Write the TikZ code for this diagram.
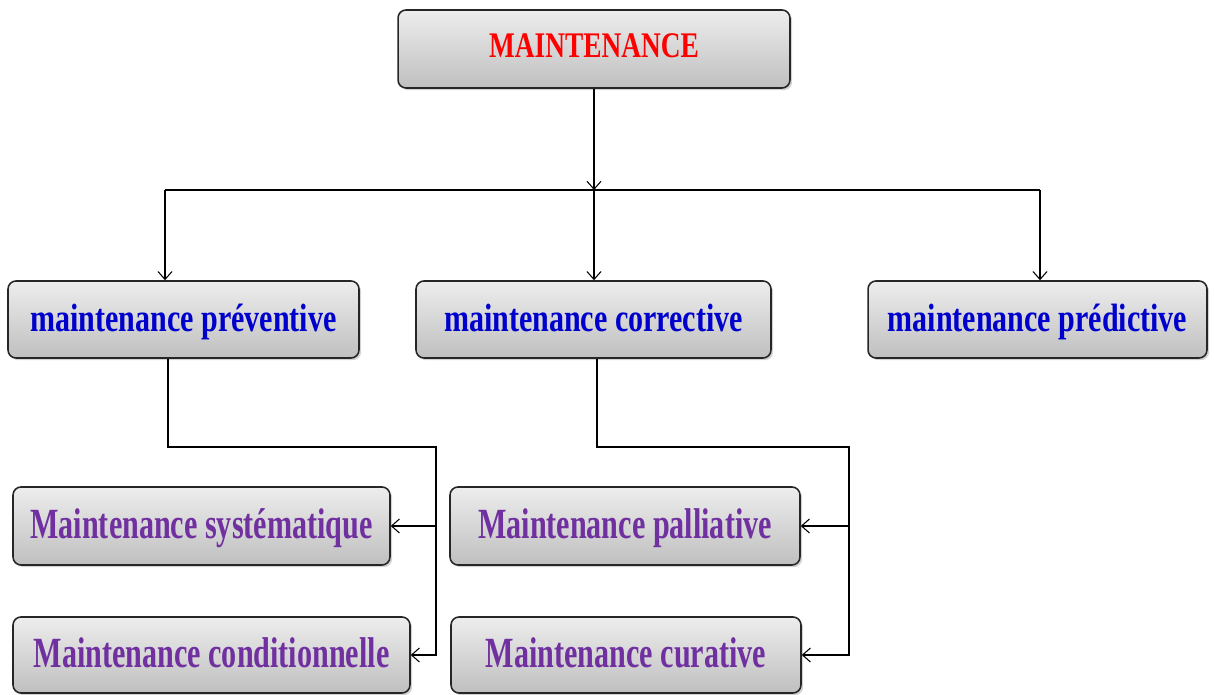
\documentclass[tikz,border=0pt]{standalone}
\usepackage{fontspec}
\newfontfamily\tfont[FakeStretch=0.76]{Liberation Serif}
\newfontfamily\pfont[FakeStretch=0.70]{Liberation Serif}
\usetikzlibrary{arrows.meta,shadows}
\definecolor{cred}{HTML}{FF0000}
\definecolor{cblue}{HTML}{0000CC}
\definecolor{cpurple}{HTML}{7030A0}
\tikzset{
  box/.style={draw=black!85, line width=0.9pt, rounded corners=4.5pt,
    top color=black!7, bottom color=black!25, inner sep=0pt,
    drop shadow={opacity=0.35, shadow xshift=1.2pt, shadow yshift=-1.2pt}},
  lvlA/.style={box, font=\tfont\bfseries\fontsize{20.5}{24}\selectfont, text=cred,
    text height=15.5pt, text depth=5.3pt},
  lvlB/.style={box, font=\tfont\bfseries\fontsize{22.5}{26}\selectfont, text=cblue,
    text height=18pt, text depth=4.4pt},
  lvlC/.style={box, font=\pfont\bfseries\fontsize{24.5}{28}\selectfont, text=cpurple,
    text height=20pt, text depth=5.3pt},
  conn/.style={draw=black, line width=0.6pt},
  arr/.style={conn, -{Straight Barb[length=4.5pt,width=8pt]}}
}
\begin{document}
\begin{tikzpicture}[x=0.02cm,y=-0.02cm]
\useasboundingbox (0,0) rectangle (1214,695);
\node[lvlA, minimum width=7.84cm, minimum height=1.56cm] (top) at (594,49) {MAINTENANCE};
\node[lvlB, minimum width=7.02cm, minimum height=1.54cm] (prev) at (183.5,319.5) {maintenance préventive};
\node[lvlB, minimum width=7.10cm, minimum height=1.54cm] (corr) at (593.5,319.5) {maintenance corrective};
\node[lvlB, minimum width=6.78cm, minimum height=1.54cm] (pred) at (1037.5,319.5) {maintenance prédictive};
\node[lvlC, minimum width=7.54cm, minimum height=1.56cm] (syst) at (201.5,526) {Maintenance systématique};
\node[lvlC, minimum width=7.94cm, minimum height=1.52cm] (cond) at (211.5,655) {Maintenance conditionnelle};
\node[lvlC, minimum width=7.00cm, minimum height=1.56cm] (pall) at (625,526) {Maintenance palliative};
\node[lvlC, minimum width=7.00cm, minimum height=1.52cm] (cura) at (626,655) {Maintenance curative};
\coordinate (j) at (594,190);
\coordinate (hl) at (165,190);
\coordinate (hr) at (1040,190);
\coordinate (p1) at (168,447);
\coordinate (p2) at (436,447);
\coordinate (c1) at (597,447);
\coordinate (c2) at (849,447);
\draw[arr] (top.south -| j) -- (j);
\draw[conn] (hl) -- (hr);
\draw[arr] (hl) -- (hl |- prev.north);
\draw[arr] (j) -- (j |- corr.north);
\draw[arr] (hr) -- (hr |- pred.north);
\draw[arr] (prev.south -| p1) -- (p1) -- (p2) |- (cond.east);
\draw[arr] (p2 |- syst.east) -- (syst.east);
\draw[arr] (corr.south -| c1) -- (c1) -- (c2) |- (cura.east);
\draw[arr] (c2 |- pall.east) -- (pall.east);
\end{tikzpicture}
\end{document}
